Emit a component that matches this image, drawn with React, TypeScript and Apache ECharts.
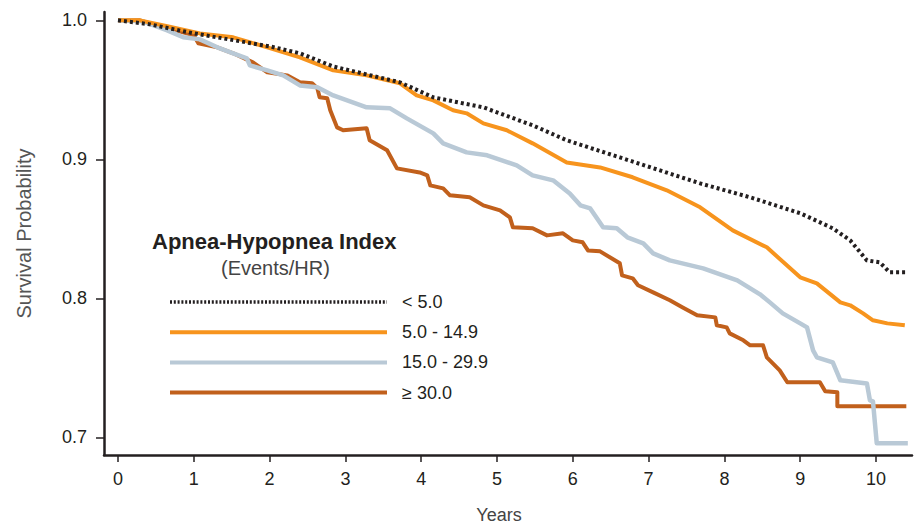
import React, { useEffect, useRef } from "react";
import * as echarts from "echarts";

const groupNames = ["< 5.0", "5.0 - 14.9", "15.0 - 29.9", "≥ 30.0"];
const xTickValues = [0, 1, 2, 3, 4, 5, 6, 7, 8, 9, 10];
const yTickValues = [0.7, 0.8, 0.9, 1.0];

// [years, survival probability]
const ahiBelow5: [number, number][] = [
  [0, 1.0], [0.42, 0.9971], [1.0, 0.9906], [2.0, 0.9813], [2.4, 0.9763], [2.84, 0.9668],
  [3.72, 0.9554], [4.16, 0.9446], [4.82, 0.9374], [5.47, 0.9245], [5.92, 0.9137],
  [6.62, 0.9014], [7.68, 0.8827], [8.34, 0.8727], [9.0, 0.8612], [9.43, 0.8504],
  [9.66, 0.8417], [9.88, 0.8273], [10.05, 0.8259], [10.18, 0.8187], [10.41, 0.8187],
];
const ahi5to15: [number, number][] = [
  [0, 1.0], [0.29, 1.0], [0.65, 0.9957], [1.08, 0.9906], [1.52, 0.9878], [1.97, 0.9806],
  [2.4, 0.9734], [2.84, 0.964], [3.28, 0.9604], [3.72, 0.9547], [3.94, 0.946],
  [4.16, 0.9424], [4.42, 0.9353], [4.6, 0.9331], [4.82, 0.9259], [5.13, 0.9209],
  [5.47, 0.9115], [5.92, 0.8978], [6.36, 0.8942], [6.79, 0.8871], [7.24, 0.8777],
  [7.68, 0.8655], [8.11, 0.8489], [8.56, 0.8367], [9.0, 0.8151], [9.22, 0.8108],
  [9.53, 0.7971], [9.66, 0.795], [9.83, 0.7892], [9.96, 0.7842], [10.15, 0.782],
  [10.38, 0.7806],
];
const ahi15to30: [number, number][] = [
  [0, 1.0], [0.33, 0.9993], [0.65, 0.9928], [0.86, 0.9878], [1.08, 0.9863], [1.31, 0.9806],
  [1.52, 0.9763], [1.7, 0.9727], [1.74, 0.9676], [1.97, 0.964], [2.18, 0.9604],
  [2.4, 0.9532], [2.63, 0.9518], [2.84, 0.946], [3.28, 0.9374], [3.59, 0.9367],
  [3.81, 0.9295], [4.16, 0.9187], [4.29, 0.9115], [4.6, 0.905], [4.87, 0.9029],
  [5.26, 0.8957], [5.47, 0.8885], [5.74, 0.8849], [5.96, 0.8755], [6.1, 0.8669],
  [6.23, 0.8647], [6.4, 0.8511], [6.58, 0.8504], [6.72, 0.8439], [6.93, 0.8396],
  [7.06, 0.8324], [7.28, 0.8273], [7.72, 0.8216], [8.17, 0.8129], [8.47, 0.8029],
  [8.6, 0.7971], [8.77, 0.7892], [9.0, 0.782], [9.09, 0.7791], [9.17, 0.7626],
  [9.22, 0.7576], [9.43, 0.754], [9.53, 0.741], [9.88, 0.7388], [9.92, 0.7266],
  [9.96, 0.7259], [10.01, 0.6957], [10.42, 0.6957],
];
const ahiAbove30: [number, number][] = [
  [0, 1.0], [0.29, 1.0], [0.55, 0.9957], [0.86, 0.9914], [1.0, 0.9892], [1.06, 0.9835],
  [1.31, 0.9806], [1.52, 0.9763], [1.78, 0.9698], [1.97, 0.9626], [2.23, 0.9604],
  [2.4, 0.9554], [2.56, 0.9547], [2.63, 0.9511], [2.66, 0.9446], [2.76, 0.9439],
  [2.8, 0.9353], [2.89, 0.923], [2.97, 0.9209], [3.28, 0.9223], [3.32, 0.9137],
  [3.55, 0.9065], [3.68, 0.8935], [3.98, 0.8906], [4.08, 0.8885], [4.12, 0.8813],
  [4.29, 0.8791], [4.38, 0.8741], [4.64, 0.8727], [4.82, 0.8669], [5.04, 0.8633],
  [5.17, 0.8583], [5.21, 0.8511], [5.47, 0.8504], [5.66, 0.8453], [5.87, 0.8468],
  [6.0, 0.8417], [6.13, 0.8403], [6.2, 0.8345], [6.36, 0.8338], [6.62, 0.8252],
  [6.65, 0.8165], [6.79, 0.8144], [6.86, 0.8094], [7.06, 0.8043], [7.28, 0.7986],
  [7.45, 0.7935], [7.64, 0.7878], [7.88, 0.7863], [7.9, 0.7806], [8.03, 0.7791],
  [8.07, 0.7748], [8.25, 0.7698], [8.34, 0.7662], [8.51, 0.7662], [8.56, 0.7576],
  [8.73, 0.7482], [8.83, 0.7396], [9.26, 0.7396], [9.33, 0.7331], [9.49, 0.7324],
  [9.49, 0.7223], [10.4, 0.7223],
];

const seriesData = [ahiBelow5, ahi5to15, ahi15to30, ahiAbove30];
const colors = ["#231f20", "#f7941d", "#b9c9d6", "#c1601c"];

const FONT = "'Liberation Sans', Arial, Helvetica, sans-serif";

export default function App() {
  const ref = useRef<HTMLDivElement>(null);
  useEffect(() => {
    if (!ref.current) return;
    const chart = echarts.init(ref.current, undefined, { renderer: "svg" });
    const option: any = {
      animation: false,
      backgroundColor: "#ffffff",
      textStyle: { fontFamily: FONT },
      grid: { left: 104, right: 3, top: 12, bottom: 69, containLabel: false, outerBoundsMode: "none" },
      xAxis: {
        type: "value",
        min: -0.1847,
        max: 10.475,
        name: "Years",
        nameLocation: "middle",
        nameGap: 51,
        nameTextStyle: { fontSize: 18, color: "#444", fontFamily: FONT, padding: [0, 18, 0, 0] },
        axisLine: { show: true, onZero: false, lineStyle: { color: "#231f20", width: 2.5 } },
        axisTick: { show: true, length: 7, customValues: xTickValues, lineStyle: { color: "#231f20", width: 1.5 } },
        axisLabel: {
          customValues: xTickValues,
          fontSize: 18,
          color: "#231f20",
          margin: 15,
          fontFamily: FONT,
          formatter: (v: number) => String(Math.round(v)),
        },
        splitLine: { show: false },
      },
      yAxis: {
        type: "value",
        min: 0.6873,
        max: 1.006,
        name: "Survival Probability",
        nameLocation: "middle",
        nameGap: 70,
        nameTextStyle: { fontSize: 20, color: "#555", fontFamily: FONT },
        axisLine: { show: true, onZero: false, lineStyle: { color: "#231f20", width: 2.5 } },
        axisTick: { show: true, length: 8, customValues: yTickValues, lineStyle: { color: "#231f20", width: 1.5 } },
        axisLabel: {
          customValues: yTickValues,
          fontSize: 18,
          color: "#231f20",
          margin: 17,
          fontFamily: FONT,
          formatter: (v: number) => v.toFixed(1),
        },
        splitLine: { show: false },
      },
      legend: {
        orient: "vertical",
        left: 168,
        top: 293,
        padding: 0,
        itemWidth: 217,
        itemHeight: 20,
        itemGap: 12.2,
        itemStyle: { opacity: 0 },
        lineStyle: { width: 4 },
        textStyle: { fontSize: 18, color: "#231f20", fontFamily: FONT, padding: [0, 0, 0, 10] },
        data: groupNames.map((n, i) =>
          i === 0
            ? { name: n, itemStyle: { opacity: 0 }, lineStyle: { type: [2, 1.8], width: 3.5, color: colors[0] } }
            : { name: n, itemStyle: { opacity: 0 }, lineStyle: { width: 4, color: colors[i] } }
        ),
      },
      graphic: [
        {
          type: "text",
          left: 152,
          top: 230,
          style: { text: "Apnea-Hypopnea Index", font: `bold 22px ${FONT}`, fill: "#231f20" },
        },
        {
          type: "text",
          left: 221,
          top: 258,
          style: { text: "(Events/HR)", font: `20px ${FONT}`, fill: "#444" },
        },
      ],
      series: seriesData.map((d, i) => ({
        name: groupNames[i],
        type: "line",
        data: d,
        showSymbol: false,
        symbol: "none",
        smooth: false,
        color: colors[i],
        z: i === 0 ? 5 : 4 - i,
        lineStyle: {
          color: colors[i],
          width: i === 0 ? 4 : i === 2 ? 4.5 : 4,
          type: i === 0 ? [3, 3] : "solid",
          cap: "butt",
          join: "round",
        },
      })),
    };
    chart.setOption(option);
    return () => chart.dispose();
  }, []);
  return (
    <div
      ref={ref}
      style={{ position: "absolute", left: 0, top: 0, width: 915, height: 524, background: "#fff" }}
    />
  );
}
